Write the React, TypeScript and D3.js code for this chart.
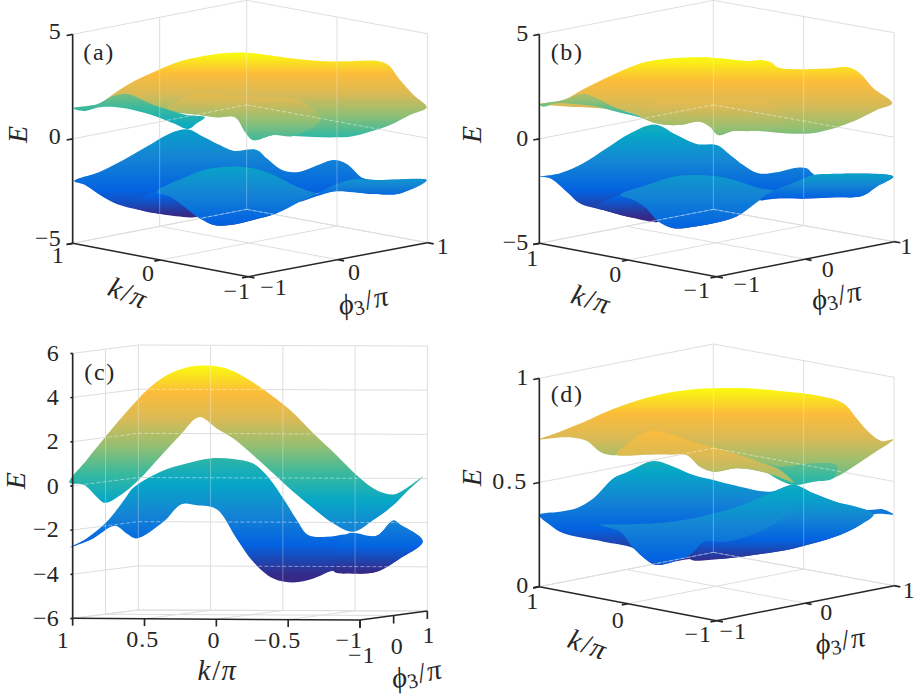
import React from 'react';
import * as d3 from 'd3';

type Pt = [number, number];
// Silhouette data: [horizontal position along the box in %, apparent E on the panel's E axis]
const aUpperBack: Pt[] = [[0.2,1.46],[6.8,1.62],[11.5,2.15],[17.1,2.74],[23.7,3.26],[30.3,3.71],[35.9,3.93],[42.5,4.09],[49.1,4.12],[54.7,4.01],[62.2,3.84],[69.7,3.72],[78.2,3.71],[86.2,3.72],[89,3.53],[92.3,2.81],[96.1,2.1],[99.8,1.51],[95.1,1.14],[89.5,0.66],[83.8,0.34],[78.2,0.1],[73.5,0.07],[67.9,0.09],[62.2,0.14],[56.6,0.18],[50.9,-0.06],[48.6,0.34],[45.8,1.03],[40.6,1.03],[35.9,1.14],[26.5,1.3],[7.7,1.62]];
const aUpperSheet: Pt[] = [[0.2,1.46],[6.8,1.65],[11.5,2.05],[15.7,2.15],[19,1.91],[23.7,1.57],[27.4,1.38],[32.1,1.14],[37.3,1.03],[35,0.74],[32.6,0.47],[28.4,0.74],[23.7,1.06],[17.1,1.38],[12.4,1.51],[7.7,1.51],[3,1.33]];
const aUpperRidge: Pt[] = [[26.5,1.46],[31.2,1.94],[35,2.18],[39.7,2.13],[50.9,2.02],[64.1,1.83],[69.7,0.9],[62.2,0.14],[56.6,0.18],[50.9,-0.06],[48.6,0.34],[45.8,1.03],[40.6,1.03],[35.9,1.14],[31.2,1.25]];
const aLowerBack: Pt[] = [[0.4,-2.02],[7.7,-1.57],[14.3,-1.01],[20.9,-0.37],[27.4,0.26],[32.6,0.45],[36.8,0.1],[41.5,-0.3],[45.3,-0.57],[51.9,-0.53],[54.7,-0.93],[59.4,-1.52],[64.1,-1.57],[68.8,-1.28],[73.5,-1.01],[77.3,-1.2],[82,-1.89],[87.6,-1.97],[99.8,-1.97],[96.1,-2.29],[92.3,-2.61],[84.8,-2.64],[79.1,-2.53],[73.5,-2.42],[64.1,-2.93],[57.5,-3.56],[50.9,-3.88],[44.4,-4.12],[39.7,-4.12],[35,-3.72],[26.5,-3.64],[19,-3.41],[12.4,-3.12],[7.7,-2.69],[3.5,-2.21]];
const aLowerDark: Pt[] = [[16.6,-3.21],[23.7,-2.53],[27.4,-2.77],[32.1,-3.33],[35,-3.72],[26.5,-3.64],[19,-3.41]];
const aLowerFront: Pt[] = [[23.7,-2.53],[32.1,-1.81],[37.8,-1.46],[44.4,-1.33],[50.9,-1.41],[56.6,-1.73],[62.2,-2.21],[66.4,-2.48],[68.8,-2.64],[64.1,-3.01],[57.5,-3.56],[50.9,-3.88],[44.4,-4.12],[39.7,-4.12],[35,-3.72],[32.1,-3.33],[27.4,-2.77]];
const aLowerRight: Pt[] = [[64.1,-3.01],[68.8,-2.64],[74.4,-2.16],[79.1,-1.94],[85.7,-1.97],[99.8,-1.98],[92.3,-2.61],[84.8,-2.64],[79.1,-2.56],[73.5,-2.53]];

const bUpperBack: Pt[] = [[0,1.67],[6.8,1.86],[12.4,2.37],[18.1,2.85],[24.7,3.37],[30.3,3.69],[37.9,3.85],[45.4,3.9],[51,3.85],[58.6,3.72],[62.3,3.77],[65.2,3.69],[67.5,3.41],[72.7,3.33],[81.2,3.37],[87.3,3.42],[90.6,3.13],[94.4,2.42],[99.7,1.7],[95.3,1.38],[89.6,0.9],[83.1,0.5],[76.5,0.26],[69.9,0.26],[60.5,0.39],[54.8,0.37],[50.6,0.18],[48.2,0.58],[45.4,0.82],[39.7,0.66],[33.1,0.74],[24.7,1.3],[5.8,1.57]];
const bUpperSheet: Pt[] = [[0,1.63],[6.8,1.86],[12.4,2.17],[16.2,1.94],[21.8,1.46],[27.5,1.14],[33.1,0.74],[28.4,1.03],[21.8,1.3],[15.3,1.57],[9.6,1.67],[4.9,1.7],[1.1,1.54]];
const bUpperRidge: Pt[] = [[27.5,1.22],[32.2,1.7],[36,1.91],[41.6,1.92],[49.2,1.86],[65.2,1.73],[70.3,0.9],[60.5,0.39],[54.8,0.37],[50.6,0.18],[48.2,0.58],[45.4,0.82],[39.7,0.66],[33.1,0.74]];
const bLowerBack: Pt[] = [[0,-1.83],[5.8,-1.65],[12.4,-1.17],[19,-0.45],[25.6,0.26],[32.7,0.69],[38.8,0.18],[44.4,-0.25],[50.1,-0.3],[53.9,-0.77],[57.6,-1.25],[61.9,-1.65],[67,-1.6],[72.7,-1.38],[75.5,-1.41],[77.9,-1.73],[82.1,-1.68],[100,-1.81],[95.3,-2.29],[91.1,-2.74],[84,-2.8],[75.5,-2.86],[67,-2.85],[62.3,-2.93],[55.7,-3.72],[49.2,-4.04],[42.6,-4.23],[37.9,-4.28],[33.6,-3.96],[24.7,-3.72],[18.1,-3.41],[11.5,-3.09],[7.7,-2.53],[3,-1.89]];
const bLowerDark: Pt[] = [[16.2,-3.28],[22.8,-2.69],[26.6,-2.93],[30.3,-3.33],[33.6,-3.96],[24.7,-3.72],[18.1,-3.41]];
const bLowerFront: Pt[] = [[22.8,-2.69],[30.3,-2.21],[37.9,-1.81],[44.4,-1.73],[51,-1.81],[56.7,-2.05],[62.3,-2.37],[66.1,-2.48],[62.3,-2.93],[55.7,-3.72],[49.2,-4.04],[42.6,-4.23],[37.9,-4.28],[33.6,-3.96],[30.3,-3.33],[26.6,-2.93]];
const bLowerRight: Pt[] = [[62.3,-2.93],[66.1,-2.48],[71.8,-2.1],[77.4,-1.73],[82.1,-1.68],[100,-1.81],[95.3,-2.29],[91.1,-2.74],[84,-2.8],[75.5,-2.86],[67,-2.85]];

const cUpper: Pt[] = [[-0.9,0.14],[3.9,1.16],[9.6,2.29],[15.2,3.35],[20.9,4.33],[26.5,5.01],[32.1,5.36],[37.8,5.45],[43.4,5.31],[49.1,4.86],[54.7,4.26],[61.3,3.43],[67.9,2.37],[74.4,1.39],[80.1,0.48],[85.7,-0.2],[90.4,-0.39],[93.2,-0.2],[98.7,0.41],[94.2,-0.27],[90.4,-0.88],[84.8,-1.55],[79.1,-2.08],[73.5,-1.71],[67.9,-1.03],[62.2,-0.27],[56.6,0.56],[51.9,1.24],[45.3,2.14],[40.6,2.6],[35.6,3.11],[30.3,2.29],[24.6,1.31],[19,0.33],[14.8,-0.27],[9.1,-0.77],[6.8,-0.5],[3,0.06]];
const cLower: Pt[] = [[-0.9,-2.79],[3.9,-2.38],[9.6,-1.63],[14.8,-0.57],[17.1,-0.09],[24.6,0.63],[32.1,1.01],[38.7,1.24],[45.3,1.21],[50.9,1.01],[54.7,0.48],[59.4,-0.57],[63.2,-1.55],[66.4,-2.23],[71.6,-2.31],[77.3,-2.19],[85.7,-2.26],[90.4,-1.57],[92.3,-1.75],[98.7,-2.51],[92.3,-3.29],[85.7,-3.89],[79.1,-3.97],[73.5,-3.85],[67.9,-4.2],[62.2,-4.38],[56.6,-4.2],[50.9,-3.44],[46.2,-2.38],[40.6,-1.06],[35,-0.88],[30.7,-0.83],[25.6,-1.63],[18,-2.38],[15.2,-2.16],[11.9,-1.81],[5.8,-2.38]];
const cLowerRight: Pt[] = [[77.3,-2.19],[85.7,-2.26],[90.4,-1.57],[92.3,-1.75],[98.7,-2.51],[92.3,-3.29],[85.7,-3.89],[79.1,-3.97],[73.5,-3.85]];

const dUpperBack: Pt[] = [[0,0.707],[5.8,0.744],[12.4,0.789],[19,0.84],[26.6,0.888],[34.1,0.923],[41.6,0.944],[49.2,0.952],[58.6,0.952],[68,0.939],[79.3,0.915],[85.9,0.88],[89.6,0.808],[93.4,0.736],[96.7,0.699],[100,0.707],[94.4,0.64],[88.7,0.576],[83,0.52],[77.4,0.504],[71.8,0.496],[66.1,0.536],[60.5,0.56],[55.7,0.568],[49.2,0.552],[45.4,0.576],[41.6,0.632],[36.9,0.635],[31.3,0.635],[24.7,0.635],[20,0.632],[17.1,0.648],[13.4,0.699],[9.6,0.715],[4.9,0.715]];
const dUpperRight: Pt[] = [[60.5,0.603],[68,0.576],[77.4,0.592],[84,0.581],[83,0.52],[77.4,0.504],[71.8,0.488],[66.1,0.528]];
const dUpperRidge: Pt[] = [[21.8,0.635],[25.6,0.696],[29.4,0.736],[33.1,0.749],[37.9,0.728],[43.5,0.696],[52,0.656],[60.5,0.608],[68,0.56],[71.8,0.5],[66.1,0.536],[60.5,0.56],[55.7,0.568],[49.2,0.552],[45.4,0.576],[41.6,0.632],[36.9,0.635],[31.3,0.635]];
const dLowerBack: Pt[] = [[0,0.344],[5.8,0.36],[10.5,0.376],[15.3,0.424],[20.9,0.52],[24.7,0.549],[32.2,0.603],[37.9,0.576],[43.5,0.536],[49.2,0.512],[56.7,0.48],[65.2,0.456],[71.8,0.488],[77.4,0.448],[84.9,0.4],[92.5,0.368],[97.2,0.371],[100,0.347],[94.4,0.347],[90.6,0.296],[84.9,0.248],[77.4,0.208],[69.9,0.176],[60.5,0.152],[51,0.133],[42.6,0.133],[37.9,0.12],[33.1,0.104],[30.3,0.128],[26.6,0.184],[18.1,0.216],[6.8,0.256],[3,0.296]];
const dLowerFront: Pt[] = [[17.1,0.296],[24.7,0.299],[36,0.309],[45.4,0.336],[54.7,0.376],[64.2,0.44],[71.8,0.488],[77.4,0.448],[84.9,0.4],[94.4,0.347],[81.6,0.41],[76.9,0.408],[71.8,0.36],[62.4,0.264],[53,0.216],[46.4,0.213],[42.6,0.152],[37.9,0.12],[33.1,0.104],[30.3,0.128],[26.6,0.184],[22.8,0.264]];
const dLowerRight: Pt[] = [[71.8,0.36],[76.5,0.408],[81.2,0.411],[94.4,0.347],[90.6,0.296],[84.9,0.248],[77.4,0.208],[69.9,0.176],[60.5,0.152],[51,0.133],[42.6,0.133],[46.4,0.213],[53,0.216],[62.4,0.264]];

const aTicksE = [5, 0, -5];
const cTicksE = [6, 4, 2, 0, -2, -4, -6];
const dTicksE = [1, 0.5, 0];
const abdTicksK = [1, 0, -1];
const cTicksK = [1, 0.5, 0, -0.5, -1];
const ticksPhi = [-1, 0, 1];
const parula = ['#f9fb0e', '#fcbc3a', '#d9ba56', '#92bf73', '#38b99e', '#06a7c6', '#1485d4', '#0363e1', '#352a87'];

type Layer = { pts: Pt[]; hi: number; lo: number };
type P2 = [number, number];
type Panel = {
  id: string; ox: number; oy: number; L: P2; F: P2; R: P2; B: P2; H: number; eDom: [number, number]; uR: [number, number];
  ticksE: number[]; ticksK: number[]; eX: number; eDy: number[]; kOff: P2[]; phiOff: P2[];
  kLab: [number, number, number]; phiLab: [number, number, number]; eLab: P2; tag: P2; wallMid: boolean; layers: Layer[];
};

const panels: Panel[] = [
  { id: 'a', ox: 0, oy: 0, L: [218, 730], F: [745, 830], R: [1282, 728], B: [740, 628], H: 627, eDom: [-5, 5], uR: [218, 1282],
    ticksE: aTicksE, ticksK: abdTicksK, eX: 182, eDy: [15, 15, 8], kOff: [[-43, 60], [-36, 62], [-33, 67]], phiOff: [[77, 55], [50, 61], [48, 34]],
    kLab: [372, 905, 22], phiLab: [1095, 930, -12], eLab: [82, 403], tag: [250, 180], wallMid: true,
    layers: [
      { pts: aUpperBack, hi: 4.09, lo: -3.72 }, { pts: aUpperSheet, hi: 5.45, lo: -2.53 }, { pts: aUpperRidge, hi: 3.85, lo: -4.12 },
      { pts: aLowerBack, hi: 9.0, lo: -4.1 }, { pts: aLowerDark, hi: 3.61, lo: -3.64 }, { pts: aLowerFront, hi: 6.0, lo: -5.4 }, { pts: aLowerRight, hi: 1.38, lo: -3.4 },
    ] },
  { id: 'b', ox: 460, oy: 0, L: [238, 730], F: [770, 830], R: [1302, 725], B: [760, 628], H: 627, eDom: [-5, 5], uR: [238, 1300],
    ticksE: aTicksE, ticksK: abdTicksK, eX: 205, eDy: [20, 20, 20], kOff: [[-20, 67], [-37, 65], [-58, 63]], phiOff: [[92, 45], [69, 52], [38, 37]],
    kLab: [383, 925, 18], phiLab: [1135, 915, -12], eLab: [64, 403], tag: [272, 180], wallMid: false,
    layers: [
      { pts: bUpperBack, hi: 3.9, lo: -5.2 }, { pts: bUpperSheet, hi: 3.82, lo: -1.49 }, { pts: bUpperRidge, hi: 3.61, lo: -4.84 },
      { pts: bLowerBack, hi: 6.85, lo: -3.77 }, { pts: bLowerDark, hi: 3.61, lo: -3.72 }, { pts: bLowerFront, hi: 7.12, lo: -5.88 }, { pts: bLowerRight, hi: 1.54, lo: -3.44 },
    ] },
  { id: 'c', ox: 0, oy: 335, L: [218, 850], F: [1080, 855], R: [1282, 828], B: [415, 825], H: 795, eDom: [-6, 6], uR: [218, 1282],
    ticksE: cTicksE, ticksK: cTicksK, eX: 176, eDy: [23, 21, 22, 23, 20, 23, 23], kOff: [[-28, 88], [-5, 86], [-7, 87], [-32, 86], [-32, 85]], phiOff: [[5, 130], [11, 116], [5, 97]],
    kLab: [650, 1035, 0], phiLab: [1255, 1045, -12], eLab: [74, 437], tag: [253, 135], wallMid: true,
    layers: [{ pts: cUpper, hi: 5.45, lo: -4.35 }, { pts: cLower, hi: 7.14, lo: -4.05 }, { pts: cLowerRight, hi: 5.31, lo: -3.89 }] },
  { id: 'd', ox: 460, oy: 335, L: [238, 755], F: [770, 857], R: [1302, 752], B: [760, 652], H: 625, eDom: [0, 1], uR: [238, 1300],
    ticksE: dTicksE, ticksK: abdTicksK, eX: 205, eDy: [20, 20, 20], kOff: [[-20, 67], [-29, 74], [-55, 63]], phiOff: [[50, 55], [64, 50], [46, 38]],
    kLab: [372, 955, 20], phiLab: [1145, 945, -10], eLab: [64, 428], tag: [272, 200], wallMid: false,
    layers: [
      { pts: dUpperBack, hi: 0.952, lo: -0.016 }, { pts: dUpperRight, hi: 1.032, lo: 0.032 }, { pts: dUpperRidge, hi: 0.896, lo: -0.216 },
      { pts: dLowerBack, hi: 1.24, lo: 0.144 }, { pts: dLowerRight, hi: 0.968, lo: 0.12 }, { pts: dLowerFront, hi: 1.256, lo: -0.024 },
    ] },
];

const serif = '"Liberation Serif", serif';
const INK = '#262626';
const GRID = '#dedede';
const fmt = (v: number) => String(v).replace('-', '\u2212');

function PanelView({ p }: { p: Panel }) {
  const [e0, e1] = p.eDom;
  const kT = d3.scaleLinear().domain([1, -1]).range([0, 1]);
  const phT = d3.scaleLinear().domain([-1, 1]).range([0, 1]);
  const eH = d3.scaleLinear().domain([e0, e1]).range([0, p.H]);
  const floor = (k: number, ph: number): P2 => {
    const s = kT(k), t = phT(ph);
    const near = d3.interpolateArray(p.L, p.F)(s) as number[];
    const far = d3.interpolateArray(p.B, p.R)(s) as number[];
    const q = d3.interpolateArray(near, far)(t) as number[];
    return [q[0], q[1]];
  };
  const at = (k: number, ph: number, e: number): P2 => { const q = floor(k, ph); return [q[0], q[1] - eH(e)]; };
  const seg = (a: P2, b: P2) => d3.line()([a, b]) as string;

  const u = d3.scaleLinear().domain([0, 100]).range(p.uR);
  const y = d3.scaleLinear().domain(p.eDom).range([p.L[1], p.L[1] - p.H]);
  const outline = d3.line<Pt>().x(d => u(d[0])).y(d => y(d[1])).curve(d3.curveCatmullRomClosed.alpha(0.5));

  const wallLines: string[] = [];
  const horizLines: string[] = [];
  p.ticksE.forEach(e => {
    const a = seg(at(1, -1, e), at(1, 1, e)); const b = seg(at(1, 1, e), at(-1, 1, e));
    horizLines.push(a, b);
  });
  const vertLines: string[] = [];
  ticksPhi.forEach(ph => { if (ph === 1 || ph === -1 || p.wallMid) { if (ph !== -1) vertLines.push(seg(at(1, ph, e0), at(1, ph, e1))); } });
  p.ticksK.forEach(k => { if (k !== 1) vertLines.push(seg(at(k, 1, e0), at(k, 1, e1))); });
  const floorLines: string[] = [];
  p.ticksK.forEach(k => { if (k !== -1) floorLines.push(seg(floor(k, -1), floor(k, 1))); });
  ticksPhi.forEach(ph => { if (ph !== -1) floorLines.push(seg(floor(1, ph), floor(-1, ph))); });
  wallLines.push(...horizLines, ...vertLines, ...floorLines);

  const tf = { fontFamily: serif, fontSize: 72, fill: INK };
  return (
    <g transform={`translate(${p.ox},${p.oy}) scale(${1 / 3})`}>
      <defs>
        {p.layers.map((l, i) => (
          <linearGradient key={i} id={`g${p.id}${i}`} gradientUnits="userSpaceOnUse" x1={0} x2={0} y1={y(l.hi)} y2={y(l.lo)}>
            {parula.map((c, j) => <stop key={j} offset={j / (parula.length - 1)} stopColor={c} />)}
          </linearGradient>
        ))}
        <clipPath id={`clip${p.id}`}>
          {p.layers.map((l, i) => <path key={i} d={outline(l.pts) as string} />)}
        </clipPath>
      </defs>
      {wallLines.map((d, i) => <path key={i} d={d} stroke={GRID} strokeWidth={3} fill="none" />)}
      {p.layers.map((l, i) => <path key={i} d={outline(l.pts) as string} fill={`url(#g${p.id}${i})`} />)}
      <g clipPath={`url(#clip${p.id})`} fill="none" stroke="#fff">
        {vertLines.map((d, i) => <path key={i} d={d} strokeWidth={3} strokeOpacity={0.3} />)}
        {floorLines.map((d, i) => <path key={i} d={d} strokeWidth={3} strokeOpacity={0.25} />)}
        {horizLines.map((d, i) => <path key={i} d={d} strokeWidth={3} strokeOpacity={0.45} strokeDasharray="12 6" />)}
      </g>
      <g stroke={INK} strokeWidth={5} fill="none">
        <path d={seg(at(1, -1, e0), at(1, -1, e1))} />
        <path d={seg(floor(1, -1), floor(-1, -1))} strokeWidth={4.5} />
        <path d={seg(floor(-1, -1), floor(-1, 1))} strokeWidth={4.5} />
        {p.ticksE.map((e, i) => <path key={i} d={seg(at(1, -1, e), at(1, -1.07, e))} />)}
        {p.ticksK.map((k, i) => <path key={i} d={seg(floor(k, -1), p.id === 'c' ? [floor(k, -1)[0], floor(k, -1)[1] + 22] : floor(k, -1.07))} />)}
        {ticksPhi.map((ph, i) => <path key={i} d={seg(floor(-1, ph), p.id === 'c' ? [floor(-1, ph)[0], floor(-1, ph)[1] + 24] : floor(-1.07, ph))} />)}
      </g>
      {p.ticksE.map((e, i) => (
        <text key={i} {...tf} x={p.eX} y={y(e) + p.eDy[i]} textAnchor="end" letterSpacing={e === 0.5 ? 6 : 0}>{fmt(e)}</text>
      ))}
      {p.ticksK.map((k, i) => {
        const q = floor(k, -1);
        return <text key={i} {...tf} x={q[0] + p.kOff[i][0]} y={q[1] + p.kOff[i][1]} textAnchor="middle" letterSpacing={3}>{fmt(k)}</text>;
      })}
      {ticksPhi.map((ph, i) => {
        const q = floor(-1, ph);
        return <text key={i} {...tf} x={q[0] + p.phiOff[i][0]} y={q[1] + p.phiOff[i][1]} textAnchor="middle" letterSpacing={3}>{fmt(ph)}</text>;
      })}
      <text {...tf} fontSize={86} fontStyle="italic" textAnchor="middle" transform={`translate(${p.kLab[0]},${p.kLab[1]}) rotate(${p.kLab[2]})`}>
        <tspan>k</tspan><tspan fontStyle="normal" dx={6}>/</tspan><tspan dx={4}>π</tspan>
      </text>
      <text {...tf} fontSize={86} textAnchor="middle" transform={`translate(${p.phiLab[0]},${p.phiLab[1]}) rotate(${p.phiLab[2]})`}>
        <tspan fontStyle="italic">ϕ</tspan><tspan fontSize={62} dy={10}>3</tspan><tspan dy={-10} dx={4}>/</tspan><tspan fontStyle="italic" dx={4}>π</tspan>
      </text>
      <text {...tf} fontSize={84} fontStyle="italic" textAnchor="middle" transform={`translate(${p.eLab[0]},${p.eLab[1]}) rotate(-90)`}>E</text>
      <text {...tf} fontSize={72} letterSpacing={5} x={p.tag[0]} y={p.tag[1]}>{`(${p.id})`}</text>
    </g>
  );
}

export default function App() {
  return (
    <svg width={917} height={700} viewBox="0 0 917 700" style={{ position: 'absolute', left: 0, top: 0, display: 'block', background: '#fff' }}>
      {panels.map(p => <PanelView key={p.id} p={p} />)}
    </svg>
  );
}
